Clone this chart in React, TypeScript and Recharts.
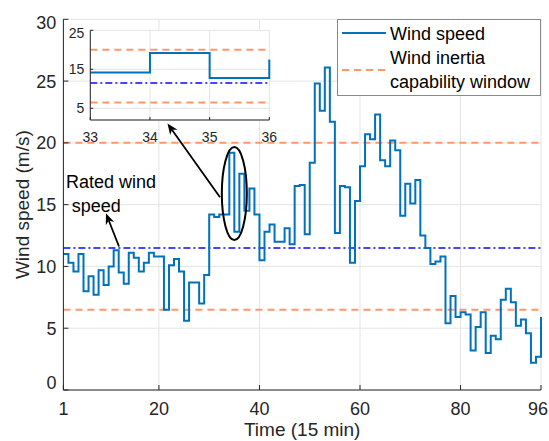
import React from 'react';
import {
  ComposedChart,
  Line,
  XAxis,
  YAxis,
  CartesianGrid,
  ReferenceLine,
  ReferenceDot,
  Legend,
  Label,
} from 'recharts';

// wind speed per 15-min interval over one day (m/s)
const windSpeed = [
  11.0, 10.3, 9.6, 11.0, 8.0, 9.2, 7.7, 9.7, 8.5, 10.0,
  11.3, 9.5, 8.6, 11.1, 10.7, 9.6, 10.3, 11.1, 10.8, 10.8,
  6.5, 10.1, 10.6, 9.6, 5.6, 8.7, 8.7, 7.0, 9.3, 14.2,
  14.0, 14.2, 14.2, 19.2, 12.8, 17.5, 14.5, 16.3, 14.2, 10.5,
  12.8, 13.4, 12.0, 12.0, 13.1, 11.8, 16.5, 16.6, 12.6, 18.4,
  24.8, 22.6, 26.1, 21.7, 12.7, 16.5, 16.4, 10.3, 15.3, 18.1,
  20.7, 20.3, 22.3, 18.6, 18.1, 20.2, 19.4, 14.1, 16.7, 15.1,
  17.0, 12.5, 11.5, 10.2, 10.4, 10.8, 5.4, 7.6, 5.9, 6.3,
  6.1, 3.2, 5.1, 6.3, 3.0, 4.4, 4.1, 7.3, 8.2, 7.1,
  5.2, 5.7, 4.6, 2.2, 2.7, 5.9,
];

const timeTicks = [1, 20, 40, 60, 80, 96];
const speedTicks = [0, 5, 10, 15, 20, 25, 30];
const zoomRange = [33, 36];
const zoomTimeTicks = [33, 34, 35, 36];
const zoomSpeedTicks = [5, 15, 25];
const inertiaWindow = [20, 6.5];
const ratedSpeed = 11.5;

const data = windSpeed.map((speed, i) => ({ t: i + 1, speed }));
const zoomData = data.filter((d) => d.t >= zoomRange[0] && d.t <= zoomRange[1]);

const BLUE = '#0072BD';
const ORANGE = '#FF976A';
const RATED = '#4646FF';
const AXIS = '#262626';
const GRID = '#e4e4e4';
const FONT = '"Liberation Sans", Arial, Helvetica, sans-serif';

// inward tick marks, MATLAB style
const makeTick = (side: string, len: number, size: number, gap: number, shift?: (v: number) => number) =>
  (props: any) => {
    const { x, y, payload } = props;
    const v = payload.value;
    if (side === 'bottom') {
      const dx = shift ? shift(v) : 0;
      return (
        <g>
          <line x1={x} y1={y} x2={x} y2={y - len} stroke={AXIS} />
          <text x={x + dx} y={y + gap} textAnchor="middle" fill={AXIS} fontSize={size}>{v}</text>
        </g>
      );
    }
    if (side === 'left') {
      const dy = shift ? shift(v) : 0;
      return (
        <g>
          <line x1={x} y1={y} x2={x + len} y2={y} stroke={AXIS} />
          <text x={x - gap} y={y + size * 0.36 + dy} textAnchor="end" fill={AXIS} fontSize={size}>{v}</text>
        </g>
      );
    }
    if (side === 'top') return <line x1={x} y1={y} x2={x} y2={y + len} stroke={AXIS} />;
    return <line x1={x} y1={y} x2={x - len} y2={y} stroke={AXIS} />;
  };

const edgeShift = (v: number) => (v === 0 ? -7 : v === 30 ? 3 : 0);
// keep the last time label inside the page
const lastTickShift = (v: number) => (v === 96 ? -3 : 0);

const Arrow = (p: any) => {
  const { x1, y1, x2, y2 } = p;
  const a = Math.atan2(y2 - y1, x2 - x1);
  const c = Math.cos(a);
  const s = Math.sin(a);
  const L = 11;
  const W = 4.5;
  const nx = x2 - 0.7 * L * c;
  const ny = y2 - 0.7 * L * s;
  const lx = x2 - L * c - W * s;
  const ly = y2 - L * s + W * c;
  const rx = x2 - L * c + W * s;
  const ry = y2 - L * s - W * c;
  return (
    <g>
      <line x1={x1} y1={y1} x2={nx} y2={ny} stroke="#000" strokeWidth={1.8} />
      <polygon points={`${x2},${y2} ${lx},${ly} ${nx},${ny} ${rx},${ry}`} fill="#000" />
    </g>
  );
};

const LegendBox = () => (
  <div
    style={{
      width: 204,
      height: 77,
      boxSizing: 'border-box',
      border: '1px solid #8a8a8a',
      background: '#fff',
    }}
  >
    <svg width={202} height={75} style={{ display: 'block', fontFamily: FONT }}>
      <line x1={4} y1={13} x2={48} y2={13} stroke={BLUE} strokeWidth={2} />
      <text x={52} y={20} fontSize={18} fill="#000">Wind speed</text>
      <line x1={4} y1={50} x2={48} y2={50} stroke={ORANGE} strokeWidth={2} strokeDasharray="7 5" />
      <text x={52} y={44} fontSize={18} fill="#000">Wind inertia</text>
      <text x={52} y={68} fontSize={18} fill="#000">capability window</text>
    </svg>
  </div>
);

const ZoomInset = () => (
  <div style={{ position: 'absolute', left: 40, top: 20 }}>
    <ComposedChart
      width={240}
      height={130}
      data={zoomData}
      margin={{ top: 10.3, right: 10.7, bottom: 0, left: 0 }}
    >
      <CartesianGrid stroke={GRID} fill="#fff" />
      <XAxis
        dataKey="t"
        type="number"
        domain={zoomRange}
        ticks={zoomTimeTicks}
        interval={0}
        height={30}
        tickSize={0}
        tickMargin={0}
        tickLine={false}
        axisLine={{ stroke: AXIS }}
        tick={makeTick('bottom', 3, 14, 22)}
      />
      <XAxis xAxisId="top" orientation="top" type="number" domain={zoomRange} ticks={zoomTimeTicks}
        interval={0} height={0} tickSize={0} tickMargin={0} tickLine={false}
        axisLine={{ stroke: AXIS }} tick={makeTick('top', 3, 14, 0)} />
      <YAxis
        type="number"
        domain={[2, 25]}
        ticks={zoomSpeedTicks}
        interval={0}
        width={50.3}
        tickSize={0}
        tickMargin={0}
        tickLine={false}
        axisLine={{ stroke: AXIS }}
        tick={makeTick('left', 3, 14, 6, (v) => (v === 25 ? 3 : 0))}
      />
      <YAxis yAxisId="right" orientation="right" type="number" domain={[2, 25]} ticks={zoomSpeedTicks}
        interval={0} width={0} tickSize={0} tickMargin={0} tickLine={false}
        axisLine={{ stroke: AXIS }} tick={makeTick('right', 3, 14, 0)} />
      {inertiaWindow.map((v) => (
        <ReferenceLine key={v} y={v} stroke={ORANGE} strokeWidth={2} strokeDasharray="7 5" />
      ))}
      <ReferenceLine y={ratedSpeed} stroke={RATED} strokeWidth={2} strokeDasharray="7 3 2 3" />
      <Line
        type="stepAfter"
        dataKey="speed"
        stroke={BLUE}
        strokeWidth={2}
        dot={false}
        isAnimationActive={false}
      />
    </ComposedChart>
  </div>
);

export default function App() {
  return (
    <div
      style={{
        position: 'absolute',
        left: 0,
        top: 0,
        width: 549,
        height: 441,
        background: '#fff',
        fontFamily: FONT,
        overflow: 'hidden',
      }}
    >
      <ComposedChart
        width={549}
        height={441}
        data={data}
        margin={{ top: 19.3, right: 8, bottom: 0, left: 0 }}
      >
        <CartesianGrid stroke={GRID} />
        <XAxis
          dataKey="t"
          type="number"
          domain={[1, 96]}
          ticks={timeTicks}
          interval={0}
          height={51}
          tickSize={0}
          tickMargin={0}
          tickLine={false}
          axisLine={{ stroke: AXIS }}
          tick={makeTick('bottom', 5, 18, 25, lastTickShift)}
        >
          <Label
            content={(props: any) => {
              const vb = props.viewBox;
              return (
                <text x={vb.x + vb.width / 2} y={vb.y + 46} textAnchor="middle" fontSize={19} fill={AXIS}>
                  Time (15 min)
                </text>
              );
            }}
          />
        </XAxis>
        <XAxis xAxisId="top" orientation="top" type="number" domain={[1, 96]} ticks={timeTicks}
          interval={0} height={0} tickSize={0} tickMargin={0} tickLine={false}
          axisLine={{ stroke: AXIS }} tick={makeTick('top', 5, 18, 0)} />
        <YAxis
          type="number"
          domain={[0, 30]}
          ticks={speedTicks}
          interval={0}
          width={63.4}
          tickSize={0}
          tickMargin={0}
          tickLine={false}
          axisLine={{ stroke: AXIS }}
          tick={makeTick('left', 5, 18, 7, edgeShift)}
        >
          <Label
            content={(props: any) => {
              const vb = props.viewBox;
              const cx = 23;
              const cy = vb.y + vb.height / 2;
              return (
                <text
                  x={cx}
                  y={cy}
                  transform={`rotate(-90 ${cx} ${cy})`}
                  textAnchor="middle"
                  dominantBaseline="central"
                  fontSize={19}
                  fill={AXIS}
                >
                  Wind speed (m/s)
                </text>
              );
            }}
          />
        </YAxis>
        <YAxis yAxisId="right" orientation="right" type="number" domain={[0, 30]} ticks={speedTicks}
          interval={0} width={0} tickSize={0} tickMargin={0} tickLine={false}
          axisLine={{ stroke: AXIS }} tick={makeTick('right', 5, 18, 0)} />

        {inertiaWindow.map((v) => (
          <ReferenceLine key={v} y={v} stroke={ORANGE} strokeWidth={2} strokeDasharray="7 5" />
        ))}
        <ReferenceLine y={ratedSpeed} stroke={RATED} strokeWidth={2} strokeDasharray="7 3 2 3" />

        <Line
          type="stepAfter"
          dataKey="speed"
          name="Wind speed"
          stroke={BLUE}
          strokeWidth={2}
          dot={false}
          isAnimationActive={false}
        />

        {/* highlighted interval and callouts */}
        <ReferenceDot
          x={35}
          y={15.9}
          ifOverflow="visible"
          shape={(p: any) => (
            <ellipse cx={p.cx} cy={p.cy} rx={12.5} ry={46.5} fill="none" stroke="#000" strokeWidth={2} />
          )}
        />
        <ReferenceLine
          ifOverflow="visible"
          segment={[{ x: 32.15, y: 15.6 }, { x: 21.7, y: 21.57 }]}
          shape={Arrow}
        />
        <ReferenceLine
          ifOverflow="visible"
          segment={[{ x: 12.06, y: 11.61 }, { x: 9.47, y: 14.3 }]}
          shape={Arrow}
        />
        <ReferenceDot
          x={1.52}
          y={16.32}
          ifOverflow="visible"
          shape={(p: any) => (
            <text x={p.cx} y={p.cy} fontSize={18} fill="#000">Rated wind</text>
          )}
        />
        <ReferenceDot
          x={2.65}
          y={14.4}
          ifOverflow="visible"
          shape={(p: any) => (
            <text x={p.cx} y={p.cy} fontSize={18} fill="#000">speed</text>
          )}
        />

        <Legend
          layout="vertical"
          align="center"
          verticalAlign="middle"
          wrapperStyle={{ position: 'absolute', left: 336.7, top: 19, width: 204, height: 77 }}
          content={() => <LegendBox />}
        />
      </ComposedChart>
      <ZoomInset />
    </div>
  );
}
